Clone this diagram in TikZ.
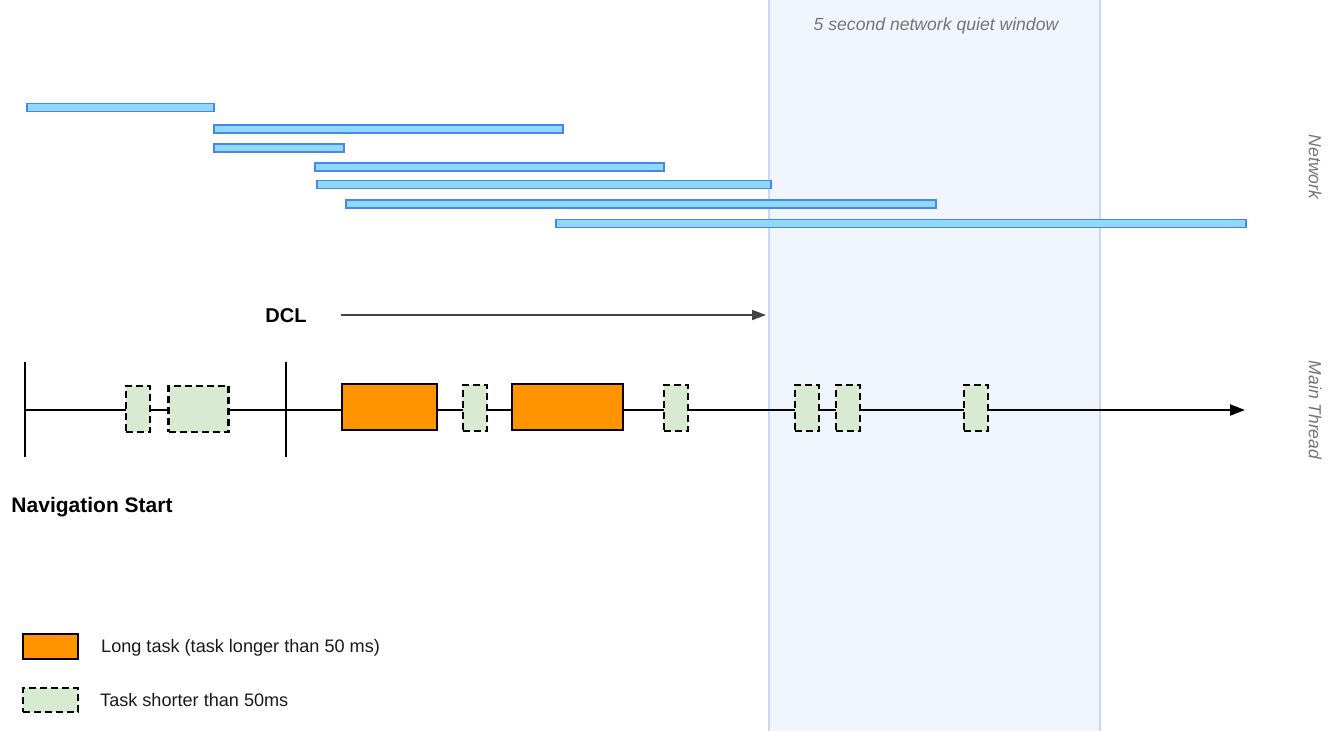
\documentclass[tikz,border=0pt]{standalone}
\usepackage{fontspec}
\setmainfont{Liberation Sans}
\usetikzlibrary{arrows.meta}
\definecolor{barfill}{HTML}{8FD9FE}
\definecolor{barline}{HTML}{4A86E8}
\definecolor{quietfill}{HTML}{F1F6FE}
\definecolor{quietline}{HTML}{C6DAF8}
\definecolor{longfill}{HTML}{FF9300}
\definecolor{shortfill}{HTML}{D9EAD3}
\definecolor{labelgray}{HTML}{757575}
\definecolor{arrowgray}{HTML}{444444}
\tikzset{
  netbar/.style={draw=barline, fill=barfill, line width=1.9pt, inner sep=0pt, minimum height=8pt, anchor=west},
  longtask/.style={draw=black, fill=longfill, line width=2.4pt, inner sep=0pt, minimum height=46pt},
  shorttask/.style={draw=black, fill=shortfill, line width=2.4pt, dash pattern=on 7pt off 4pt, inner sep=0pt, minimum height=46pt},
  sidelabel/.style={text=labelgray, font=\fontsize{17.5}{21}\selectfont\itshape, rotate=-90, inner sep=0pt},
  boldlabel/.style={font=\fontsize{20}{24}\selectfont\bfseries, inner sep=0pt},
  legendtext/.style={font=\fontsize{18.1}{22}\selectfont, text=black!90, anchor=west, inner sep=0pt},
  tick/.style={line width=2.2pt},
}
\begin{document}
\begin{tikzpicture}[x=1pt,y=-1pt]
\useasboundingbox (0,0) rectangle (1335,731);
% quiet window
\fill[quietfill] (769,0) rectangle (1100,731);
\draw[quietline, line width=1.2pt] (769,0) -- (769,731) (1100,0) -- (1100,731);
\node[text=labelgray, font=\fontsize{17.6}{21}\selectfont\itshape, inner sep=0pt] (quiet) at (936,25.5) {5 second network quiet window};
% network bars
\node[netbar, minimum width=187pt] (b1) at (26,107.5) {};
\node[netbar, minimum width=349pt] (b2) at (213,129) {};
\node[netbar, minimum width=130pt] (b3) at (213,148) {};
\node[netbar, minimum width=349pt] (b4) at (314,167) {};
\node[netbar, minimum width=454pt] (b5) at (316,184.5) {};
\node[netbar, minimum width=590pt] (b6) at (345,204) {};
\node[netbar, minimum width=690pt] (b7) at (555,223.5) {};
\node[sidelabel] (netlabel) at (1315,167) {Network};
\node[sidelabel] (mtlabel) at (1315,410) {Main Thread};
% DCL
\node[boldlabel] (dcl) at (286,315.5) {DCL};
\coordinate (dclstart) at (341,315);
\coordinate (dclend) at (766,315);
\draw[arrowgray, line width=1.8pt, -{Triangle[length=14pt,width=10pt]}] (dclstart) -- (dclend);
% main thread
\coordinate (mstart) at (25,410);
\coordinate (mend) at (1245,410);
\draw[line width=2.2pt, -{Triangle[length=15pt,width=11pt]}] (mstart) -- (mend);
\coordinate (navtop) at (25,362);
\coordinate (navbot) at (25,457);
\coordinate (dcltop) at (286,362);
\coordinate (dclbot) at (286,457);
\draw[tick] (navtop) -- (navbot);
\draw[tick] (dcltop) -- (dclbot);
\node[shorttask, minimum width=24pt] (s1) at (138,409) {};
\node[shorttask, minimum width=60pt] (s2) at (198.5,409) {};
\node[longtask, minimum width=95pt] (l1) at (389.5,407) {};
\node[shorttask, minimum width=24pt] (s3) at (475,408) {};
\node[longtask, minimum width=111pt] (l2) at (567.5,407) {};
\node[shorttask, minimum width=24pt] (s4) at (676,408) {};
\node[shorttask, minimum width=24pt] (s5) at (807,408) {};
\node[shorttask, minimum width=24pt] (s6) at (848,408) {};
\node[shorttask, minimum width=24pt] (s7) at (976,408) {};
\node[boldlabel, font=\fontsize{21}{25}\selectfont\bfseries] (navstart) at (92,507) {Navigation Start};
% legend
\node[longtask, minimum width=55pt, minimum height=25pt] (leglong) at (50.5,646.5) {};
\node[shorttask, minimum width=55pt, minimum height=24pt] (legshort) at (50.5,700) {};
\node[legendtext] (leglongtext) at (101,648) {Long task (task longer than 50 ms)};
\node[legendtext] (legshorttext) at (100,700) {Task shorter than 50ms};
\end{tikzpicture}
\end{document}
